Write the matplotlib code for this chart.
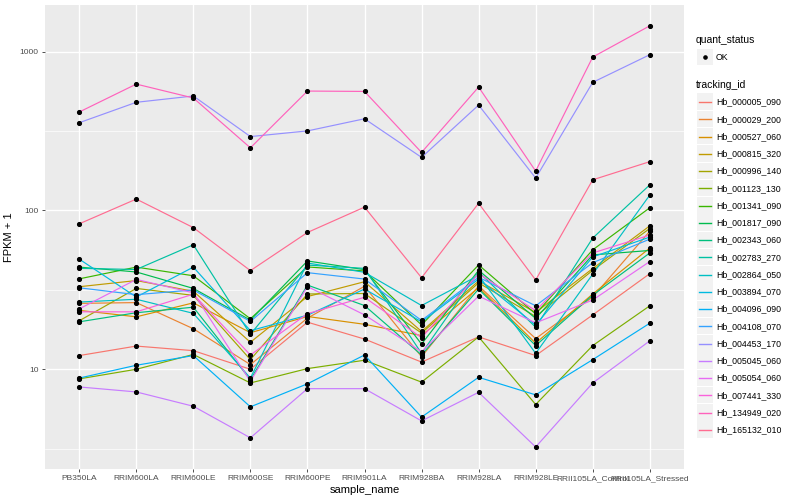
import numpy as np
import matplotlib
matplotlib.use("Agg")
import matplotlib.pyplot as plt
from matplotlib.patches import Rectangle
from matplotlib.lines import Line2D

plt.rcParams['font.family'] = ['Liberation Sans', 'DejaVu Sans']

samples = ['PB350LA', 'RRIM600LA', 'RRIM600LE', 'RRIM600SE', 'RRIM600PE', 'RRIM901LA',
           'RRIM928BA', 'RRIM928LA', 'RRIM928LE', 'RRII105LA_Control', 'RRII105LA_Stressed']

# FPKM + 1 per tracking id, in sample order
hb_000005_090 = [12.2, 14.0, 13.1, 10.0, 19.8, 15.5, 11.1, 16.0, 12.2, 22.0, 40.0]
hb_000029_200 = [26.0, 26.3, 18.0, 10.7, 21.0, 33.3, 12.0, 33.5, 15.6, 28.5, 74.0]
hb_000527_060 = [23.5, 21.4, 26.2, 17.0, 21.5, 19.2, 16.3, 32.7, 14.6, 29.8, 58.0]
hb_000815_320 = [33.1, 36.2, 31.0, 14.8, 28.7, 35.6, 17.3, 36.0, 22.8, 43.1, 80.0]
hb_000996_140 = [20.2, 32.3, 29.2, 11.5, 29.8, 30.0, 16.9, 35.0, 21.5, 42.0, 77.0]
hb_001123_130 = [8.7, 10.0, 12.4, 8.2, 10.1, 11.4, 8.3, 16.0, 6.0, 14.1, 25.1]
hb_001341_090 = [37.1, 44.0, 38.8, 20.8, 44.1, 41.6, 19.0, 45.4, 22.3, 56.5, 104.0]
hb_001817_090 = [44.0, 41.0, 32.3, 20.4, 48.1, 42.4, 14.4, 42.0, 20.9, 52.5, 56.0]
hb_002343_060 = [19.9, 22.7, 24.6, 8.6, 33.9, 25.2, 12.3, 32.0, 14.1, 29.3, 54.0]
hb_002783_270 = [43.2, 42.5, 60.8, 16.6, 45.3, 43.2, 12.6, 41.0, 18.4, 67.0, 145.0]
hb_002864_050 = [26.5, 27.6, 22.5, 8.8, 46.7, 40.8, 25.2, 39.0, 12.6, 39.7, 125.0]
hb_003894_070 = [49.4, 28.5, 44.0, 17.5, 21.9, 32.0, 19.9, 37.0, 19.0, 51.0, 68.0]
hb_004096_090 = [8.8, 10.6, 12.2, 5.8, 8.1, 12.3, 5.0, 8.9, 6.9, 11.5, 19.5]
hb_004108_070 = [32.6, 29.5, 31.6, 20.0, 40.6, 37.0, 20.3, 38.0, 25.1, 46.9, 66.0]
hb_004453_170 = [357, 480, 526, 292, 317, 378, 216, 461, 160, 641, 957]
hb_005045_060 = [7.74, 7.2, 5.85, 3.70, 7.55, 7.55, 4.73, 7.16, 3.24, 8.2, 15.1]
hb_005054_060 = [24.0, 36.8, 30.3, 8.4, 33.2, 22.0, 12.9, 28.9, 19.6, 27.3, 47.7]
hb_007441_330 = [23.0, 23.0, 29.7, 12.3, 22.4, 28.4, 15.8, 40.0, 23.4, 54.0, 70.0]
hb_134949_020 = [417, 625, 511, 248, 565, 562, 232, 599, 177, 925, 1455]
hb_165132_010 = [82.4, 118, 78, 41.8, 72.7, 105, 37.7, 111, 36.5, 156, 203]

tracking_ids = ['Hb_000005_090', 'Hb_000029_200', 'Hb_000527_060', 'Hb_000815_320',
                'Hb_000996_140', 'Hb_001123_130', 'Hb_001341_090', 'Hb_001817_090',
                'Hb_002343_060', 'Hb_002783_270', 'Hb_002864_050', 'Hb_003894_070',
                'Hb_004096_090', 'Hb_004108_070', 'Hb_004453_170', 'Hb_005045_060',
                'Hb_005054_060', 'Hb_007441_330', 'Hb_134949_020', 'Hb_165132_010']
series = [hb_000005_090, hb_000029_200, hb_000527_060, hb_000815_320, hb_000996_140,
          hb_001123_130, hb_001341_090, hb_001817_090, hb_002343_060, hb_002783_270,
          hb_002864_050, hb_003894_070, hb_004096_090, hb_004108_070, hb_004453_170,
          hb_005045_060, hb_005054_060, hb_007441_330, hb_134949_020, hb_165132_010]

# ggplot hue palette, 20 levels
colors = ['#F8766D', '#EA8331', '#D89000', '#C09B00', '#A3A500', '#7CAE00', '#39B600',
          '#00BB4E', '#00BF7D', '#00C1A3', '#00BFC4', '#00BAE0', '#00B0F6', '#35A2FF',
          '#9590FF', '#C77CFF', '#E76BF3', '#FA62DB', '#FF62BC', '#FF6C91']

W, H = 800, 500
fig = plt.figure(figsize=(8, 5), dpi=100)
ax = fig.add_axes([45 / W, 1 - 469 / H, (684 - 45) / W, (469 - 5) / H])
ax.set_facecolor('#EBEBEB')

x = np.arange(1, len(samples) + 1)
for vals, col in zip(series, colors):
    ax.plot(x, vals, color=col, lw=0.85, zorder=3)
for vals in series:
    ax.plot(x, vals, 'o', color='black', ms=2.7, zorder=4)

ax.set_yscale('log')
ax.set_ylim(10 ** 0.372, 10 ** 3.294)
ax.set_xlim(0.4, len(samples) + 0.6)
ax.set_xticks(x)
ax.set_xticklabels(samples)
ax.set_yticks([10, 100, 1000])
ax.set_yticklabels(['10', '100', '1000'])
ax.set_yticks([10 ** 0.5, 10 ** 1.5, 10 ** 2.5], minor=True)
ax.yaxis.set_minor_formatter(matplotlib.ticker.NullFormatter())
ax.tick_params(axis='y', which='minor', length=0)
ax.grid(True, which='major', color='white', lw=1.0, zorder=1)
ax.grid(True, which='minor', axis='y', color='white', lw=0.5, zorder=1)
ax.set_axisbelow(True)
for s in ax.spines.values():
    s.set_visible(False)
ax.tick_params(which='major', length=2.5, width=0.6, color='#333333',
               labelcolor='#4D4D4D', labelsize=6, pad=2)

ax.set_xlabel('sample_name', fontsize=8, labelpad=2)
ax.set_ylabel('FPKM + 1', fontsize=8, labelpad=4)

# legend drawn by hand, ggplot style
def fx(px):
    return px / W

def fy(py):
    return 1 - py / H

fig.text(fx(696), fy(40), 'quant_status', fontsize=7.5, va='center', ha='left')
fig.patches.append(Rectangle((fx(697), fy(65)), 16 / W, 16 / H, transform=fig.transFigure,
                             facecolor='#F2F2F2', edgecolor='none'))
fig.lines.append(Line2D([fx(705)], [fy(57)], marker='o', color='black', ms=2.3,
                        transform=fig.transFigure))
fig.text(fx(716), fy(57), 'OK', fontsize=6.3, va='center', ha='left')

fig.text(fx(696), fy(85), 'tracking_id', fontsize=7.5, va='center', ha='left')
for i, (tid, col) in enumerate(zip(tracking_ids, colors)):
    cy = 102 + i * 17.25
    fig.patches.append(Rectangle((fx(697), fy(cy + 8)), 16 / W, 16.5 / H,
                                 transform=fig.transFigure,
                                 facecolor='#F2F2F2', edgecolor='none'))
    fig.lines.append(Line2D([fx(699), fx(711)], [fy(cy), fy(cy)], color=col, lw=1.0,
                            transform=fig.transFigure))
    fig.text(fx(716.5), fy(cy), tid, fontsize=6.3, va='center', ha='left')

fig.savefig('out.png', dpi=100)
